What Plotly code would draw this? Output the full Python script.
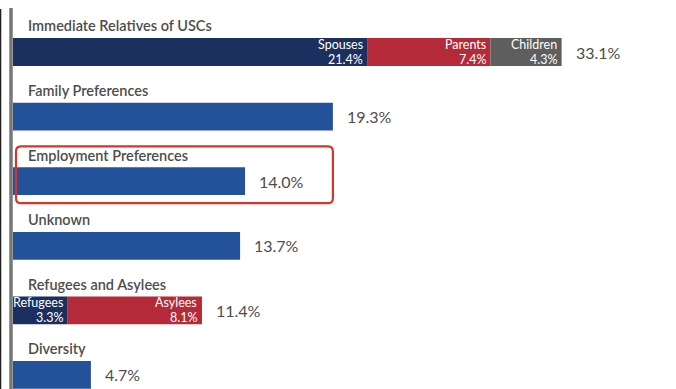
import plotly.graph_objects as go

categories = ["Immediate Relatives of USCs", "Family Preferences", "Employment Preferences",
              "Unknown", "Refugees and Asylees", "Diversity"]
totals = [33.1, 19.3, 14.0, 13.7, 11.4, 4.7]
total_labels = ["33.1%", "19.3%", "14.0%", "13.7%", "11.4%", "4.7%"]

# stacked sub-segments (category index, name, value)
seg_cat = [0, 0, 0, 4, 4]
seg_names = ["Spouses", "Parents", "Children", "Refugees", "Asylees"]
seg_values = [21.4, 7.4, 4.3, 3.3, 8.1]
seg_labels = ["21.4%", "7.4%", "4.3%", "3.3%", "8.1%"]

NAVY = "#1b305f"
BLUE = "#24529a"
RED = "#b52a38"
GRAY = "#5e5e5e"
seg_colors = [NAVY, RED, GRAY, NAVY, RED]
TEXT = "#4d4d4d"
FONT = "Lato"

BW = 0.43
fig = go.Figure()

# solid bars for categories without segments
solid_idx = [i for i in range(len(categories)) if i not in seg_cat]
fig.add_trace(go.Bar(
    x=[totals[i] for i in solid_idx], y=solid_idx, orientation="h",
    marker=dict(color=BLUE, line=dict(width=0)), width=BW, showlegend=False,
    hoverinfo="skip"))

# segments
bases = {}
for c, n, v, col, lab in zip(seg_cat, seg_names, seg_values, seg_colors, seg_labels):
    b = bases.get(c, 0.0)
    fig.add_trace(go.Bar(
        x=[v], y=[c], base=[b], orientation="h",
        marker=dict(color=col, line=dict(width=0)), width=BW, showlegend=False,
        hoverinfo="skip"))
    end = b + v
    fig.add_annotation(x=end, y=c, text=n, xanchor="right", yanchor="middle",
                       xshift=-2.5, yshift=7.5, showarrow=False,
                       font=dict(family=FONT, size=12.5, color="white"))
    fig.add_annotation(x=end, y=c, text=lab, xanchor="right", yanchor="middle",
                       xshift=-2.5, yshift=-7.5, showarrow=False,
                       font=dict(family=FONT, size=12.5, color="white"))
    bases[c] = end

# category labels and totals
for i, (cat, t, tl) in enumerate(zip(categories, totals, total_labels)):
    fig.add_annotation(x=0, y=i - 0.405, text=cat, xanchor="left", yanchor="middle",
                       xshift=13, showarrow=False,
                       font=dict(family=FONT, size=14.5, color=TEXT, weight=600))
    fig.add_annotation(x=t, y=i, text=tl, xanchor="left", yanchor="middle",
                       xshift=12, showarrow=False,
                       font=dict(family=FONT, size=16, color=TEXT))

# highlight box around Employment Preferences (rounded)
hi = 2
x0, x1 = 0.18, 19.3
y0, y1 = hi - 0.54, hi + 0.34
rx, ry = 0.3, 0.077
path = (f"M {x0+rx},{y0} L {x1-rx},{y0} Q {x1},{y0} {x1},{y0+ry} "
        f"L {x1},{y1-ry} Q {x1},{y1} {x1-rx},{y1} L {x0+rx},{y1} "
        f"Q {x0},{y1} {x0},{y1-ry} L {x0},{y0+ry} Q {x0},{y0} {x0+rx},{y0} Z")
fig.add_shape(type="path", path=path, xref="x", yref="y",
              line=dict(color="#d9342b", width=2.2), layer="above")

# left axis line and frame edge
fig.add_shape(type="line", xref="x", yref="paper", x0=-0.12, x1=-0.12, y0=0, y1=1 - 8/389,
              line=dict(color="#777777", width=3.5))
fig.add_shape(type="line", xref="paper", yref="paper", x0=0.0008, x1=0.0008, y0=0, y1=1 - 9/389,
              line=dict(color="#222222", width=1.5))

fig.update_layout(
    width=676, height=389,
    margin=dict(l=0, r=0, t=0, b=0),
    paper_bgcolor="white", plot_bgcolor="white",
    barmode="overlay",
    xaxis=dict(range=[-13/16.575, 40], visible=False, fixedrange=True),
    yaxis=dict(range=[5.217, -0.805], visible=False, fixedrange=True),
    showlegend=False,
)
fig.write_html("out.html", config={"displayModeBar": False},
               post_script="document.body.style.margin='0';document.body.style.overflow='hidden';")
